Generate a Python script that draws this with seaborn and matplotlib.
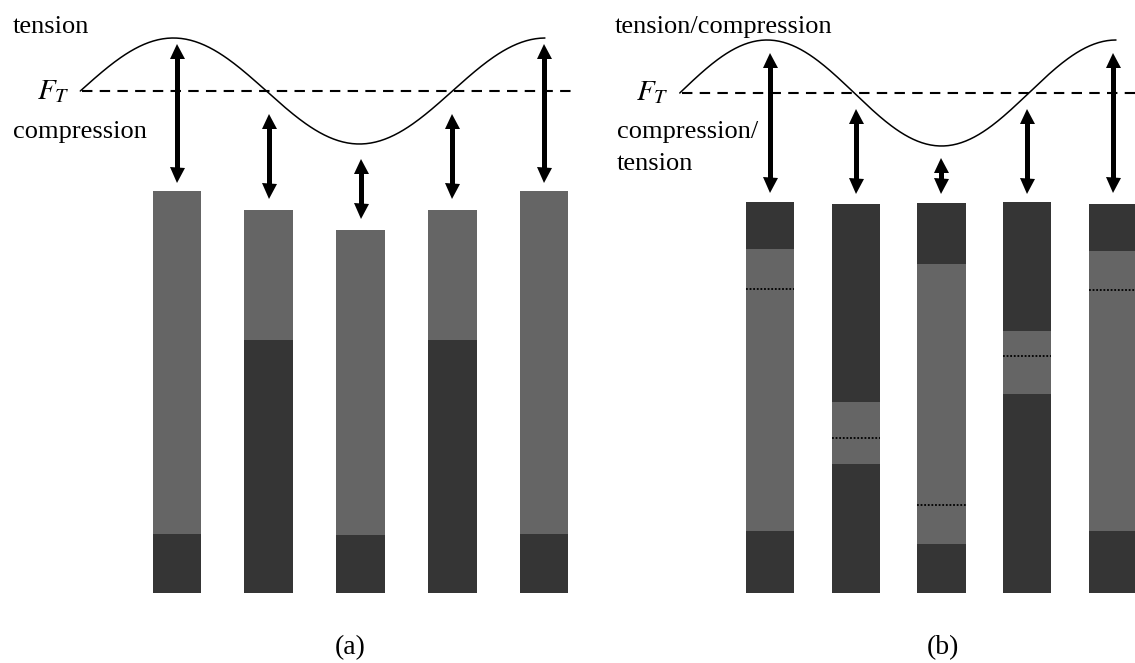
import numpy as np
import pandas as pd
import seaborn as sns
import matplotlib.pyplot as plt

# bar segment heights (px above the bar base)
bars = ["1", "2", "3", "4", "5"]

# (a) dark base + light top
a_dark_bottom = [59, 253, 58, 253, 59]
a_light = [343, 130, 305, 130, 343]
a_dark_top = [0, 0, 0, 0, 0]

# (b) dark base + light middle + dark top
b_dark_bottom = [62, 129, 49, 199, 62]
b_light = [282, 62, 280, 63, 280]
b_dark_top = [47, 198, 61, 129, 47]
b_dotted = [304, 155, 88, 237, 303]

# double arrows (top tip, bottom tip)
a_arrow_top = [550, 480, 435, 480, 550]
a_arrow_bot = [411, 395, 375, 395, 411]
b_arrow_top = [541, 485, 436, 485, 541]
b_arrow_bot = [401, 400, 400, 400, 401]

# force level and wave
ft_level = {"a": 502, "b": 500}
wave_amp = 53
wave_peak = {"a": -0.04, "b": -0.035}
wave_quarter = {"a": 1.014, "b": 1.0175}

LIGHT = "#656565"
DARK = "#353535"

sns.set_theme(style="white")
plt.rcParams["font.family"] = ["Liberation Serif", "DejaVu Serif"]
plt.rcParams["mathtext.fontset"] = "stix"
plt.rcParams["text.color"] = "black"

fig = plt.figure(figsize=(11.35, 6.63), dpi=100)
ax_a = fig.add_axes([0, 0, 0.5, 1])
ax_b = fig.add_axes([0.5, 0, 0.5, 1])
for ax in (ax_a, ax_b):
    ax.patch.set_alpha(0)


def draw_bars(ax, d_bot, light, d_top, width):
    df = pd.DataFrame({"bar": bars, "d_bot": d_bot, "light": light, "d_top": d_top})
    kw = dict(x="bar", width=width, saturation=1, errorbar=None, linewidth=0, ax=ax)
    sns.barplot(data=df, y="d_bot", color=DARK, **kw)
    sns.barplot(data=df, y="light", bottom=df["d_bot"], color=LIGHT, **kw)
    sns.barplot(data=df, y="d_top", bottom=df["d_bot"] + df["light"], color=DARK, **kw)


def draw_wave(ax, key, x_end):
    p, q = wave_peak[key], wave_quarter[key]
    xs = np.linspace(p - q, x_end, 300)
    ys = ft_level[key] + wave_amp * np.cos(np.pi / 2 * (xs - p) / q)
    sns.lineplot(x=xs, y=ys, color="black", lw=1.1, ax=ax, sort=False)


HEAD = 15  # px (1 y unit = 1 px)


def draw_arrows(ax, tops, bots):
    for i, (t, b) in enumerate(zip(tops, bots)):
        ax.plot([i, i], [t - HEAD / 2, b + HEAD / 2], color="black", lw=3.6,
                solid_capstyle="butt")
        ax.plot(i, t - HEAD / 2, marker="^", ms=HEAD * 0.72, color="black", mew=0)
        ax.plot(i, b + HEAD / 2, marker="v", ms=HEAD * 0.72, color="black", mew=0)


draw_bars(ax_a, a_dark_bottom, a_light, a_dark_top, 0.529)
draw_bars(ax_b, b_dark_bottom, b_light, b_dark_top, 0.564)

for i, y in enumerate(b_dotted):
    ax_b.hlines(y, i - 0.282, i + 0.282, colors="black", lw=1.3, linestyles=(0, (1, 1)))

draw_wave(ax_a, "a", 4.01)
draw_wave(ax_b, "b", 4.035)

ax_a.plot([-1.035, 4.305], [ft_level["a"]] * 2, color="black", lw=1.5,
          dashes=(5, 3.5), clip_on=False)
ax_b.plot([-1.026, 4.3], [ft_level["b"]] * 2, color="black", lw=1.5,
          dashes=(5, 3.5), clip_on=False)

draw_arrows(ax_a, a_arrow_top, a_arrow_bot)
draw_arrows(ax_b, b_arrow_top, b_arrow_bot)

fs = 19
ax_a.text(-1.787, 560, "tension", fontsize=fs, va="baseline")
ax_a.text(-1.17, 494, r"$F_T$", fontsize=21, ha="right", va="baseline")
ax_a.text(-1.787, 455, "compression", fontsize=fs, va="baseline")

ax_b.text(-1.808, 560, "tension/compression", fontsize=fs, va="baseline")
ax_b.text(-1.18, 493, r"$F_T$", fontsize=21, ha="right", va="baseline")
ax_b.text(-1.784, 455, "compression/", fontsize=fs, va="baseline")
ax_b.text(-1.784, 423, "tension", fontsize=fs, va="baseline")

ax_a.set_xlim(-1.929, 4.256)
ax_b.set_xlim(-2.3615, 4.2566)
for ax in (ax_a, ax_b):
    ax.set_ylim(-70, 593)
    ax.axis("off")

fig.text(350 / 1135, 1 - 648 / 663, "(a)", fontsize=20, ha="center", va="center")
fig.text(943 / 1135, 1 - 648 / 663, "(b)", fontsize=20, ha="center", va="center")

fig.savefig("out.png", dpi=100, facecolor="white")
